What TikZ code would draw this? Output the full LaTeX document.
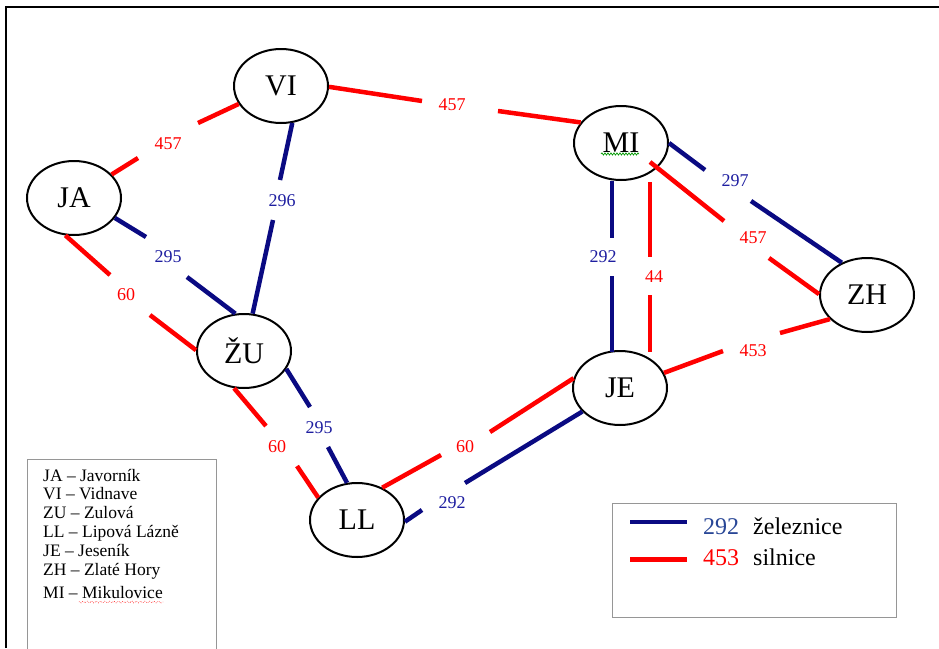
\documentclass[tikz,border=0pt]{standalone}
\usepackage{fontspec}
\setmainfont{Liberation Serif}
\usetikzlibrary{shapes.geometric,decorations.pathmorphing,calc}
\definecolor{railblue}{RGB}{10,10,130}
\definecolor{railtxt}{RGB}{30,30,160}
\definecolor{legtxt}{RGB}{40,70,150}
\definecolor{roadred}{RGB}{255,0,0}
\definecolor{framegray}{RGB}{150,150,150}
\newcommand{\citysize}{\fontsize{30}{32}\selectfont}
\newcommand{\labsize}{\fontsize{18}{20}\selectfont}
\newcommand{\legsize}{\fontsize{17.5}{19}\selectfont}
\newcommand{\keysize}{\fontsize{24}{26}\selectfont}
\tikzset{
  city/.style={ellipse, draw, line width=2pt, minimum width=94pt, minimum height=74pt, inner sep=0pt, font=\citysize},
  rail/.style={line width=4.5pt, draw=railblue},
  road/.style={line width=4.5pt, draw=roadred},
  raillab/.style={text=railtxt, font=\labsize, inner sep=0pt},
  roadlab/.style={text=roadred, font=\labsize, inner sep=0pt},
  legline/.style={anchor=base west, font=\legsize, inner sep=0pt},
}
\begin{document}
\begin{tikzpicture}[x=1pt,y=-1pt]
\useasboundingbox (0,0) rectangle (939,648);
% outer frame
\draw[line width=1.5pt] (6,648) -- (6,7) -- (939,7);

% cities
\node[city] (VI) at (281,86) {VI};
\node[city] (JA) at (74,198) {JA};
\node[city] (ZU) at (244,351) {ŽU};
\node[city] (LL) at (357,520) {LL};
\node[city] (JE) at (620,388) {JE};
\node[city] (ZH) at (867,295) {ZH};
\node[city] (MI) at (621,143) {MI};
\draw[green!60!black, line width=0.7pt, decorate, decoration={snake, amplitude=1.1pt, segment length=3pt}] (601,154) -- (639,154);

% edge labels
\node[roadlab] (l1) at (168,144) {457};
\node[raillab] (l2) at (282,201) {296};
\node[raillab] (l3) at (168,257) {295};
\node[roadlab] (l4) at (126,295) {60};
\node[raillab] (l5) at (319,428) {295};
\node[roadlab] (l6) at (277,447) {60};
\node[roadlab] (l7) at (465,447) {60};
\node[raillab] (l8) at (452,503) {292};
\node[roadlab] (l9) at (452,105) {457};
\node[raillab] (l10) at (603,257) {292};
\node[roadlab] (l11) at (654,277) {44};
\node[raillab] (l12) at (735,181) {297};
\node[roadlab] (l13) at (753,238) {457};
\node[roadlab] (l14) at (753,351) {453};

% free ends of the segments
\coordinate (e1a) at (138,158); \coordinate (e1b) at (198,123);
\coordinate (e2a) at (280,180); \coordinate (e2b) at (273,220);
\coordinate (e3a) at (146,237); \coordinate (e3b) at (187,277);
\coordinate (e4a) at (110,275); \coordinate (e4b) at (150,315);
\coordinate (e5a) at (310,407); \coordinate (e5b) at (328,447);
\coordinate (e6a) at (266,426); \coordinate (e6b) at (297,466);
\coordinate (e7a) at (441,455); \coordinate (e7b) at (490,432);
\coordinate (e8a) at (422,510); \coordinate (e8b) at (465,483);
\coordinate (e9a) at (422,101); \coordinate (e9b) at (498,111);
\coordinate (e10a) at (612,238); \coordinate (e10b) at (612,276);
\coordinate (e11a) at (650,257); \coordinate (e11b) at (650,295);
\coordinate (e12a) at (705,170); \coordinate (e12b) at (751,201);
\coordinate (e13a) at (724,221); \coordinate (e13b) at (769,258);
\coordinate (e14a) at (723,351); \coordinate (e14b) at (780,333);

% connectors
\draw[road] (JA.32) -- (e1a);  \draw[road] (e1b) -- (VI.203);
\draw[rail] (VI.287) -- (e2a); \draw[rail] (e2b) -- (ZU.77);
\draw[rail] (JA.334) -- (e3a); \draw[rail] (e3b) -- (ZU.103);
\draw[road] (JA.257) -- (e4a); \draw[road] (e4b) -- (ZU.179);
\draw[rail] (ZU.337) -- (e5a); \draw[rail] (e5b) -- (LL.105);
\draw[road] (ZU.255) -- (e6a); \draw[road] (e6b) -- (LL.150);
\draw[road] (LL.52) -- (e7a);  \draw[road] (e7b) -- (JE.168);
\draw[rail] (LL.358) -- (e8a); \draw[rail] (e8b) -- (JE.212);
\draw[road] (VI.359) -- (e9a); \draw[road] (e9b) -- (MI.153);
\draw[rail] ($(MI.center)+(-9,38)$) -- (e10a); \draw[rail] (e10b) -- ($(JE.center)+(-8,-36)$);
\draw[road] ($(MI.center)+(29,39)$) -- (e11a); \draw[road] (e11b) -- ($(JE.center)+(30,-36)$);
\draw[rail] (MI.0) -- (e12a);  \draw[rail] (e12b) -- (ZH.128);
\draw[road] ($(MI.center)+(29,19)$) -- (e13a); \draw[road] (e13b) -- (ZH.179);
\draw[road] (JE.19) -- (e14a); \draw[road] (e14b) -- (ZH.213);

% legend of names
\node[draw=framegray, line width=1pt, minimum width=189pt, minimum height=200pt, anchor=north west, inner sep=0pt] (namebox) at (27,459) {};
\node[legline] (n1) at (43,481) {JA – Javorník};
\node[legline] (n2) at (43,499) {VI – Vidnave};
\node[legline] (n3) at (43,518) {ZU – Zulová};
\node[legline] (n4) at (43,537) {LL – Lipová Lázně};
\node[legline] (n5) at (43,556) {JE – Jeseník};
\node[legline] (n6) at (43,575) {ZH – Zlaté Hory};
\node[legline] (n7) at (43,598) {MI – Mikulovice};
\draw[roadred, line width=0.6pt, dotted, decorate, decoration={snake, amplitude=0.8pt, segment length=2.5pt}] (79,602) -- (163,602);

% legend of line kinds
\node[draw=framegray, line width=1pt, minimum width=284pt, minimum height=114pt, anchor=north west, inner sep=0pt] (keybox) at (612,503) {};
\coordinate (k1a) at (630,522); \coordinate (k1b) at (687,522);
\coordinate (k2a) at (630,559); \coordinate (k2b) at (687,559);
\draw[rail] (k1a) -- (k1b);
\draw[road, line width=5pt] (k2a) -- (k2b);
\node[anchor=base west, inner sep=0pt, font=\keysize, text=legtxt] (k1n) at (703,534) {292};
\node[anchor=base west, inner sep=0pt, font=\keysize] (k1t) at (753,534) {železnice};
\node[anchor=base west, inner sep=0pt, font=\keysize, text=roadred] (k2n) at (703,565) {453};
\node[anchor=base west, inner sep=0pt, font=\keysize] (k2t) at (753,565) {silnice};
\end{tikzpicture}
\end{document}
